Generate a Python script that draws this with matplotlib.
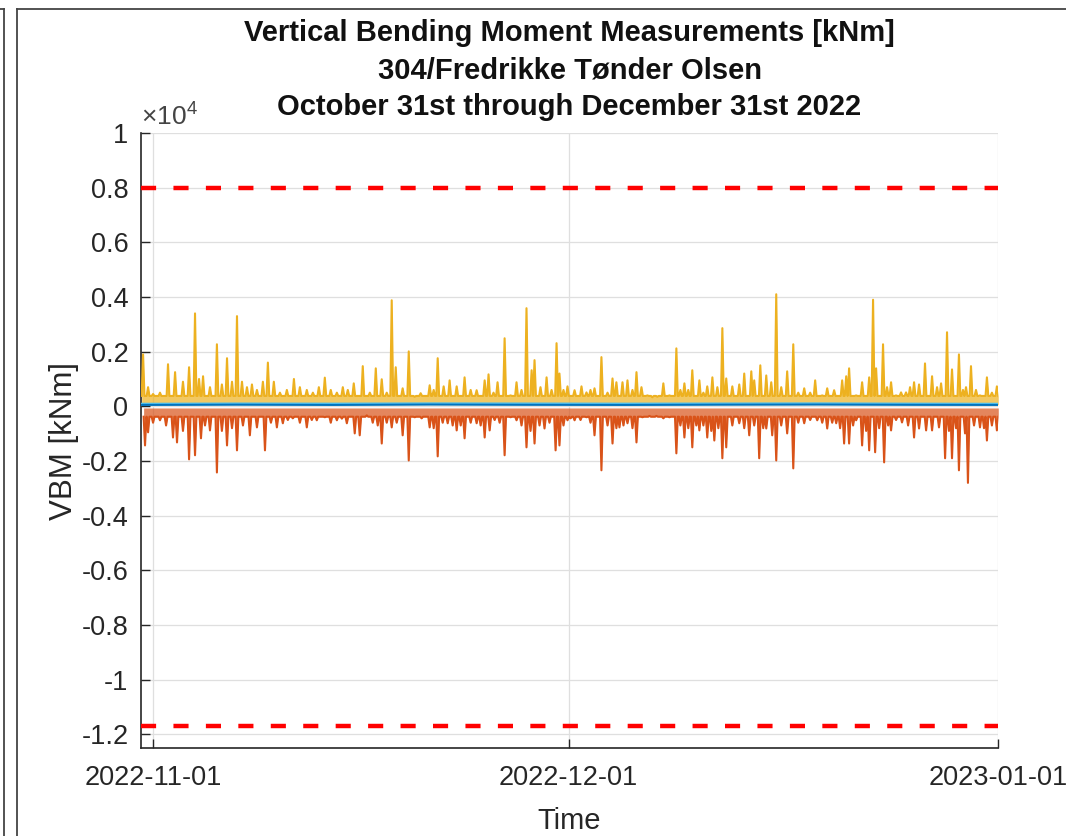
import matplotlib
matplotlib.use('Agg')
import matplotlib.pyplot as plt
from matplotlib.lines import Line2D
from matplotlib.ticker import FuncFormatter
import matplotlib.dates as mdates
import numpy as np
import pandas as pd

plt.rcParams['font.family'] = ['Liberation Sans', 'DejaVu Sans']
plt.rcParams['mathtext.fontset'] = 'custom'
plt.rcParams['mathtext.rm'] = 'Liberation Sans'

# time axis: day offsets from 2022-10-31 00:00
START = pd.Timestamp('2022-10-31')
X_FROM, X_TO = 0.13, 62.0

# max VBM per interval (spikes) [kNm]
hi_days = [0.28, 0.64, 1.00, 1.50, 2.08, 2.59, 3.16, 3.60, 4.03, 4.32, 4.61, 5.11, 5.61, 5.97,
           6.34, 6.70, 7.06, 7.42, 7.78, 8.14, 8.50, 8.93, 9.29, 9.72, 10.16, 10.66, 11.17, 11.60,
           12.10, 12.54, 12.97, 13.40, 13.83, 14.27, 14.70, 15.06, 15.49, 16.14, 16.65, 17.08,
           17.51, 17.87, 18.23, 18.52, 19.02, 19.46, 19.89, 20.32, 20.97, 21.26, 21.55, 21.98,
           22.41, 22.92, 23.49, 23.93, 24.36, 24.94, 25.22, 25.58, 25.87, 26.38, 26.81, 27.24,
           27.60, 27.96, 28.33, 28.54, 28.97, 29.41, 29.77, 30.13, 30.34, 30.63, 30.92, 31.43,
           31.93, 32.29, 32.58, 32.87, 33.37, 33.81, 34.17, 34.45, 34.89, 35.25, 35.61, 35.90,
           36.26, 36.69, 37.05, 37.41, 37.84, 38.28, 38.78, 39.07, 39.36, 39.64, 39.93, 40.44,
           40.73, 41.01, 41.38, 41.74, 42.10, 42.38, 42.82, 43.32, 43.68, 44.19, 44.40, 44.84,
           45.27, 45.63, 45.99, 46.35, 46.78, 47.22, 47.58, 48.01, 48.44, 48.80, 49.31, 49.67,
           50.17, 50.75, 51.04, 51.25, 51.76, 52.19, 52.70, 52.98, 53.20, 53.70, 53.99, 54.28,
           54.64, 55.00, 55.36, 55.65, 55.94, 56.30, 56.73, 57.24, 57.60, 57.89, 58.32, 58.68,
           59.18, 59.47, 59.69, 60.05, 60.41, 60.70, 61.20, 61.56, 61.92]
hi_vals = [1900, 700, 450, 500, 1540, 1250, 900, 1430, 3400, 1000, 1100, 700, 2270, 800,
           1760, 900, 3300, 900, 700, 800, 600, 900, 1600, 900, 500, 600, 1000, 700,
           600, 500, 700, 1050, 600, 500, 700, 600, 840, 1470, 500, 1390,
           990, 500, 3880, 1430, 660, 2010, 350, 480, 770, 600, 1760, 730,
           950, 730, 1060, 600, 590, 950, 1170, 500, 880, 2490, 400, 880,
           600, 3590, 1320, 1690, 700, 1060, 600, 2310, 1200, 600, 730, 590,
           730, 510, 600, 660, 1800, 500, 1020, 880, 880, 950, 600, 1250,
           700, 400, 330, 350, 840, 400, 2120, 600, 840, 600, 1320, 950,
           500, 730, 1060, 700, 2860, 1020, 730, 800, 1200, 1280, 950, 1500,
           1130, 880, 4100, 700, 1280, 2270, 500, 660, 500, 950, 400, 660,
           590, 950, 1100, 1390, 400, 880, 1060, 3900, 1390, 2270, 700, 880,
           400, 510, 510, 700, 880, 800, 1570, 1100, 700, 840, 2710, 1350,
           1900, 600, 700, 1470, 600, 400, 1060, 500, 730]

# min VBM per interval (spikes) [kNm]
lo_days = [0.42, 0.64, 1.00, 1.50, 1.94, 2.44, 2.73, 3.16, 3.60, 4.03, 4.46, 4.75, 5.11, 5.61,
           5.97, 6.34, 6.70, 7.06, 7.49, 7.99, 8.50, 9.08, 9.51, 9.94, 10.37, 10.73, 11.09,
           11.60, 12.10, 12.46, 12.82, 13.40, 13.83, 14.27, 14.63, 14.99, 15.56, 15.92, 16.43,
           16.86, 17.22, 17.51, 17.87, 18.23, 18.59, 19.02, 19.46, 19.89, 20.39, 20.97, 21.26,
           21.55, 21.91, 22.27, 22.63, 22.92, 23.21, 23.49, 23.93, 24.36, 24.65, 24.94, 25.30,
           25.66, 26.02, 26.38, 26.81, 27.24, 27.60, 27.96, 28.25, 28.54, 28.90, 29.26, 29.62,
           30.06, 30.34, 30.63, 30.92, 31.14, 31.43, 31.86, 32.29, 32.58, 32.87, 33.37, 33.81,
           34.17, 34.45, 34.67, 34.96, 35.25, 35.61, 35.90, 36.33, 36.84, 37.34, 37.84, 38.28,
           38.78, 39.07, 39.36, 39.64, 39.93, 40.22, 40.44, 40.73, 41.01, 41.30, 41.52, 41.81,
           42.10, 42.38, 42.82, 43.32, 43.68, 44.04, 44.40, 44.76, 45.05, 45.27, 45.70, 45.99,
           46.35, 46.78, 47.22, 47.58, 48.01, 48.44, 48.95, 49.31, 49.67, 50.03, 50.32, 50.60,
           50.89, 51.25, 51.54, 51.76, 52.19, 52.48, 52.70, 53.13, 53.42, 53.78, 54.07, 54.28,
           54.64, 55.07, 55.51, 55.94, 56.30, 56.81, 57.24, 57.74, 58.18, 58.46, 58.68, 58.97,
           59.18, 59.62, 59.83, 60.27, 60.70, 60.99, 61.20, 61.56, 61.92]
lo_vals = [-1430, -950, -600, -510, -700, -1140, -1320, -900, -1940, -1790, -1170, -700, -880, -2420,
           -900, -1430, -800, -1610, -700, -1060, -770, -1610, -600, -770, -620, -500, -440,
           -600, -770, -500, -510, -400, -600, -510, -450, -620, -990, -1060, -330,
           -600, -700, -1360, -600, -770, -600, -1060, -1980, -400, -440, -770, -800,
           -1830, -600, -620, -700, -880, -700, -1170, -600, -620, -700, -1140, -880,
           -500, -600, -1790, -400, -510, -700, -1500, -900, -1360, -700, -810, -600,
           -1610, -1430, -700, -510, -440, -510, -500, -400, -600, -1060, -2340, -700,
           -1360, -800, -770, -700, -620, -800, -1320, -400, -350, -350, -440, -400,
           -1720, -700, -1140, -800, -1500, -700, -880, -700, -1140, -900, -1250, -800,
           -1900, -1500, -700, -620, -800, -1060, -700, -1900, -800, -810, -1060, -1980,
           -700, -990, -2270, -600, -620, -500, -510, -600, -810, -600, -620, -800,
           -1360, -1360, -700, -510, -1430, -900, -1610, -1680, -800, -2050, -700, -880,
           -500, -590, -700, -1140, -810, -880, -880, -770, -1900, -900, -1900, -800,
           -2340, -990, -2800, -700, -770, -800, -1250, -700, -880]

# level each trace falls back to between spikes [kNm]
HI_FLOOR = 380
LO_FLOOR = -380

# mean and spread traces close to zero [kNm]
mean_days = [0.13, 7.0, 14.0, 21.0, 28.0, 35.0, 42.0, 49.0, 56.0, 62.0]
mean_vals = [50, 60, 50, 65, 55, 50, 60, 65, 55, 50]
std_vals = [80, 90, 85, 95, 90, 85, 90, 95, 85, 80]

# design limits [kNm]
UPPER_LIMIT = 8000
LOWER_LIMIT = -11700

assert len(hi_days) == len(hi_vals) and len(lo_days) == len(lo_vals)

C_BLUE = (0.0, 0.447, 0.741)
C_ORANGE = (0.850, 0.325, 0.098)
C_YELLOW = (0.929, 0.694, 0.125)
C_LBLUE = (0.301, 0.745, 0.933)
TXT = '#262626'


def to_time(days):
    return START + pd.to_timedelta(np.asarray(days, dtype=float), unit='D')


def spike_trace(days, vals, floor, half=0.1):
    t, v = [], []
    for d, x in zip(days, vals):
        t += [d - half, d, d + half]
        v += [floor, x, floor]
    return to_time(t), np.array(v, dtype=float)


fig = plt.figure(figsize=(10.66, 8.36), dpi=100)
ax = fig.add_axes([141 / 1066, 88 / 836, 857 / 1066, 615 / 836])

t_hi, v_hi = spike_trace(hi_days, hi_vals, HI_FLOOR)
t_lo, v_lo = spike_trace(lo_days, lo_vals, LO_FLOOR)

ax.fill_between(t_hi, 60, v_hi, color=C_YELLOW, alpha=0.7, lw=0, zorder=2)
ax.plot(t_hi, v_hi, color=C_YELLOW, lw=1.5, zorder=3)
ax.fill_between(t_lo, -60, v_lo, color=C_ORANGE, alpha=0.7, lw=0, zorder=2)
ax.plot(t_lo, v_lo, color=C_ORANGE, lw=1.5, zorder=3)

t_m = to_time(mean_days)
ax.plot(t_m, std_vals, color=C_LBLUE, lw=2.0, zorder=4)
ax.plot(t_m, mean_vals, color=C_BLUE, lw=1.4, zorder=5)

for lim in (UPPER_LIMIT, LOWER_LIMIT):
    ax.axhline(lim, color='red', lw=3.2, linestyle=(0, (3.4, 3.9)), zorder=6)

ax.set_xlim(to_time([X_FROM])[0], to_time([X_TO])[0])
ax.set_ylim(-12500, 10000)
ax.set_yticks(np.arange(-12000, 10001, 2000))
ax.yaxis.set_major_formatter(FuncFormatter(lambda v, p: f'{v / 1e4:g}'))
ax.set_xticks(pd.to_datetime(['2022-11-01', '2022-12-01', '2023-01-01']))
ax.xaxis.set_major_formatter(mdates.DateFormatter('%Y-%m-%d'))

ax.grid(True, color='#dfdfdf', lw=0.9, zorder=0)
ax.set_axisbelow(True)
for s in ('top', 'right'):
    ax.spines[s].set_visible(False)
for s in ('left', 'bottom'):
    ax.spines[s].set_color(TXT)
    ax.spines[s].set_linewidth(1.2)
ax.tick_params(direction='in', length=6.5, width=1.0, color=TXT, labelcolor=TXT,
               labelsize=19.5)
ax.tick_params(axis='x', pad=12)
ax.tick_params(axis='y', pad=9)

ax.set_xlabel('Time', fontsize=21, color=TXT, labelpad=12)
ax.set_ylabel('VBM [kNm]', fontsize=22.5, color=TXT, labelpad=2)
ax.set_title('Vertical Bending Moment Measurements [kNm]\n304/Fredrikke Tønder Olsen\n'
             'October 31st through December 31st 2022',
             fontsize=21, fontweight='bold', color='#111111', pad=13, linespacing=1.405)
ax.text(0.0, 1.006, r'$\times 10^{4}$', transform=ax.transAxes, ha='left', va='bottom',
        fontsize=19, color='#444444')

# frame of the surrounding page
W, H = 1066, 836
for xs, ys in [((3.5, 3.5), (8.5, H)), ((0, 3.5), (8.5, 8.5)),
               ((16.5, 16.5), (8.5, H)), ((16.5, W), (8.5, 8.5))]:
    fig.add_artist(Line2D([x / W for x in xs], [1 - y / H for y in ys],
                          transform=fig.transFigure, color='#444444', lw=1.3))

fig.savefig('out.png', dpi=100)
